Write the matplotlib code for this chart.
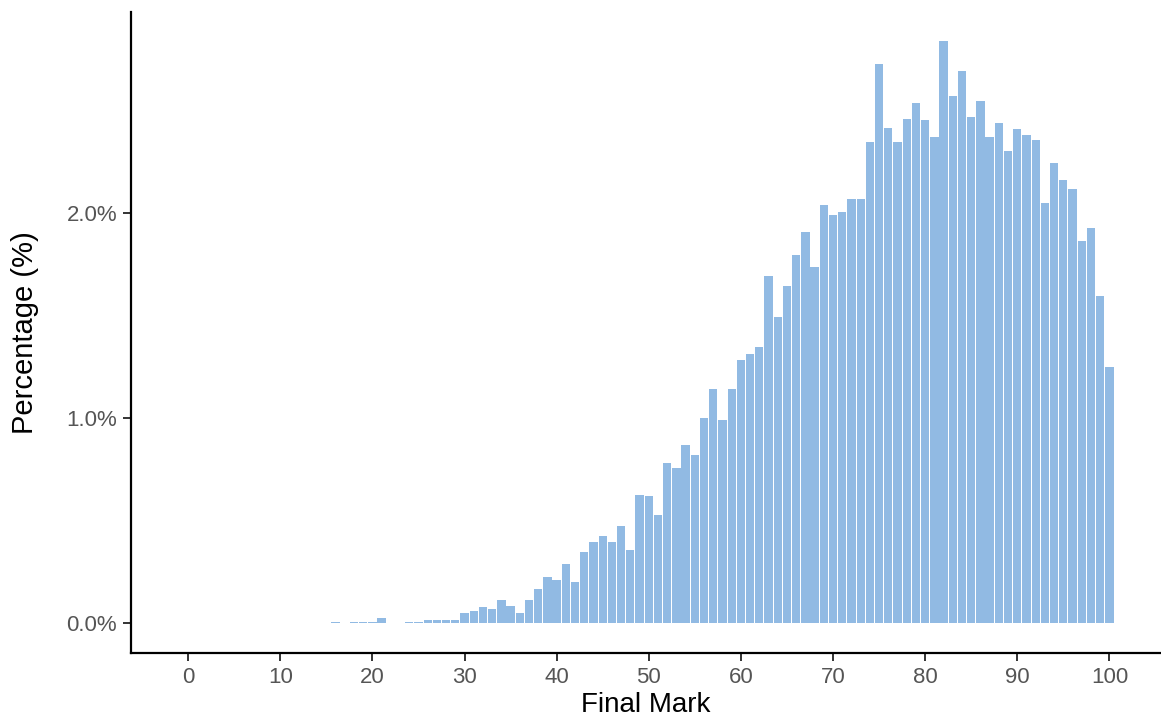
import matplotlib
matplotlib.use("Agg")
import matplotlib.pyplot as plt
from matplotlib.ticker import FuncFormatter

plt.rcParams['font.family'] = ['Liberation Sans', 'DejaVu Sans']

marks = list(range(16, 101))
percent = [
    0.006, 0.0, 0.006, 0.006, 0.006, 0.024, 0.0, 0.0, 0.006, 0.006,   # 16-25
    0.015, 0.015, 0.015, 0.015, 0.049, 0.059, 0.077, 0.067, 0.111, 0.081,  # 26-35
    0.049, 0.111, 0.164, 0.223, 0.208, 0.286, 0.199, 0.345, 0.397, 0.423,  # 36-45
    0.397, 0.475, 0.355, 0.624, 0.618, 0.527, 0.780, 0.755, 0.867, 0.820,  # 46-55
    0.998, 1.143, 0.989, 1.143, 1.283, 1.312, 1.346, 1.694, 1.493, 1.642,  # 56-65
    1.797, 1.909, 1.738, 2.039, 1.990, 2.005, 2.067, 2.067, 2.345, 2.727,  # 66-75
    2.416, 2.345, 2.457, 2.538, 2.452, 2.372, 2.839, 2.571, 2.693, 2.467,  # 76-85
    2.545, 2.372, 2.441, 2.301, 2.408, 2.379, 2.355, 2.049, 2.242, 2.161,  # 86-95
    2.117, 1.865, 1.927, 1.597, 1.250,  # 96-100
]
x_ticks = list(range(0, 101, 10))
y_ticks = [0.0, 1.0, 2.0]

fig = plt.figure(figsize=(11.61, 7.17), dpi=100)
ax = fig.add_axes([131 / 1161, 1 - 653 / 717, 1 - 131 / 1161, (653 - 12) / 717])

ax.bar(marks, percent, width=0.9, color='#91BAE3', linewidth=0)

ax.set_xlim(-6.2, 105.6)
ax.set_ylim(-0.146, 2.98)
ax.set_xticks(x_ticks)
ax.set_yticks(y_ticks)
ax.yaxis.set_major_formatter(FuncFormatter(lambda v, p: f"{v:.1f}%"))

for s in ['top', 'right']:
    ax.spines[s].set_visible(False)
for s in ['left', 'bottom']:
    ax.spines[s].set_linewidth(1.6)
    ax.spines[s].set_color('black')

ax.tick_params(axis='both', length=6, width=1.4, color='#333333',
               labelsize=16, labelcolor='#555555', pad=4)
ax.set_xlabel('Final Mark', fontsize=20, color='black', labelpad=3)
ax.set_ylabel('Percentage (%)', fontsize=21, color='black', labelpad=20)

fig.savefig('out.png', dpi=100)
